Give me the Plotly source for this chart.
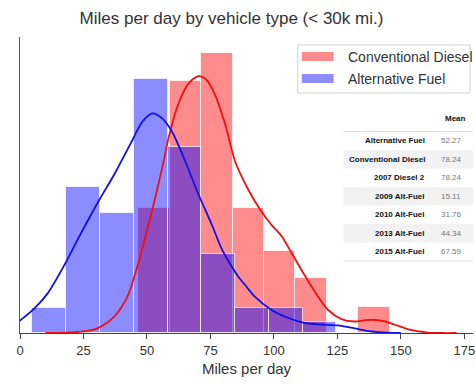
import plotly.graph_objects as go

# ---------------- data ----------------
diesel_label = "Conventional Diesel"
alt_label = "Alternative Fuel"

# histogram bin edges (miles per day) and normalised heights (density)
alt_edges = [4.9, 18.2, 31.5, 44.8, 58.1, 71.4, 84.7, 98.0, 111.3, 124.6]
alt_density = [0.00215, 0.01256, 0.01032, 0.02184, 0.01600, 0.00679, 0.00215, 0.00215, 0.00095]

diesel_edges = [46.6, 59.0, 71.4, 83.7, 96.1, 108.5, 120.9, 133.2, 145.6]
diesel_density = [0.01078, 0.02167, 0.02405, 0.01078, 0.00705, 0.00470, 0.0, 0.00226]

# KDE curves
alt_kde_x = [-3, -0.2, 5.7, 10.9, 17.5, 24, 31.2, 37, 43.6, 48.2, 52.1, 56, 59.9, 65.2, 70.4,
             75.6, 79.5, 83.5, 86.1, 89.3, 92.6, 99.1, 105.7, 112.2, 118.7, 125.3, 131.8,
             138.4, 145, 150]
alt_kde_y = [0.00052, 0.00103, 0.00212, 0.00341, 0.00585, 0.00857, 0.01144, 0.01359, 0.01631,
             0.01817, 0.01889, 0.01846, 0.01731, 0.01471, 0.01187, 0.00929, 0.00722, 0.00568,
             0.00482, 0.00396, 0.00310, 0.00198, 0.00129, 0.00086, 0.00073, 0.00065, 0.00039,
             0.00013, 0.00002, 0.0]

diesel_kde_x = [10, 18, 24, 30.5, 37.1, 42.3, 46.2, 50.1, 54, 56.7, 58.6, 62.5, 66.5, 70.4, 73.5,
                76.7, 80.9, 84.8, 90, 94.7, 99.1, 103, 107, 110.9, 116.2, 121.4, 126.6, 131.8,
                136, 140, 143.6, 147.5, 154, 160.6, 166, 172]
diesel_kde_y = [0.0, 0.00003, 0.00011, 0.00040, 0.00140, 0.00312, 0.00570, 0.00886, 0.01230,
                0.01488, 0.01686, 0.01978, 0.02150, 0.02210, 0.02176, 0.02055, 0.01789, 0.01471,
                0.01230, 0.01058, 0.00929, 0.00834, 0.00688, 0.00542, 0.00353, 0.00198, 0.00120,
                0.00099, 0.00110, 0.00112, 0.00099, 0.00073, 0.00026, 0.00004, 0.0, 0.0]

# inset table of means
table_header = "Mean"
table_labels = ["Alternative Fuel", "Conventional Diesel", "2007 Diesel 2", "2009 Alt-Fuel",
                "2010 Alt-Fuel", "2013 Alt-Fuel", "2015 Alt-Fuel"]
table_means = [52.27, 78.24, 78.24, 15.11, 31.76, 44.34, 67.59]

x_ticks = [0, 25, 50, 75, 100, 125, 150, 175]

# ---------------- layout geometry ----------------
W, H = 475, 384
ML, MR, MT, MB = 20, 0, 37, 51
PW, PH = W - ML - MR, H - MT - MB

def px(xp):
    return (xp - ML) / PW

def py(yp):
    return (H - MB - yp) / PH

RED_FILL = "rgba(255,0,0,0.45)"
BLUE_FILL = "rgba(0,0,255,0.45)"
FONT = "Liberation Sans, Arial, sans-serif"

def centers(edges):
    return [(a + b) / 2 for a, b in zip(edges[:-1], edges[1:])]

def widths(edges):
    return [b - a for a, b in zip(edges[:-1], edges[1:])]

fig = go.Figure()
fig.add_trace(go.Bar(x=centers(diesel_edges), y=diesel_density, width=widths(diesel_edges),
                     marker=dict(color=RED_FILL, line=dict(color="rgba(255,255,255,0.7)", width=1)),
                     name=diesel_label, showlegend=False))
fig.add_trace(go.Bar(x=centers(alt_edges), y=alt_density, width=widths(alt_edges),
                     marker=dict(color=BLUE_FILL, line=dict(color="rgba(255,255,255,0.7)", width=1)),
                     name=alt_label, showlegend=False))
fig.add_trace(go.Scatter(x=diesel_kde_x, y=diesel_kde_y, mode="lines",
                         line=dict(color="#f01010", width=1.8, shape="spline", smoothing=0.8),
                         showlegend=False, hoverinfo="skip"))
fig.add_trace(go.Scatter(x=alt_kde_x, y=alt_kde_y, mode="lines",
                         line=dict(color="#1010e6", width=1.8, shape="spline", smoothing=0.8),
                         showlegend=False, hoverinfo="skip"))

shapes = []
annotations = []

# legend (drawn by hand to match the wide matplotlib patches)
shapes.append(dict(type="rect", xref="paper", yref="paper", x0=px(299), x1=px(472), y0=py(93), y1=py(45),
                   line=dict(color="#d0d0d0", width=1), fillcolor="rgba(255,255,255,0.85)", layer="above"))
for (label, color, yc) in [(diesel_label, RED_FILL, 56.5), (alt_label, BLUE_FILL, 78.5)]:
    shapes.append(dict(type="rect", xref="paper", yref="paper", x0=px(303), x1=px(335),
                       y0=py(yc + 4.5), y1=py(yc - 4.5), line=dict(width=0), fillcolor=color, layer="above"))
    annotations.append(dict(text=label, xref="paper", yref="paper", x=px(347), y=py(yc),
                            xanchor="left", yanchor="middle", showarrow=False,
                            font=dict(family=FONT, size=14, color="#333333")))

# inset table
row_top = 131.5
row_h = 18.5
for i, (lab, val) in enumerate(zip(table_labels, table_means)):
    y0 = row_top + i * row_h
    yc = y0 + row_h / 2
    if i % 2 == 1:
        shapes.append(dict(type="rect", xref="paper", yref="paper", x0=px(345), x1=px(475),
                           y0=py(y0 + row_h), y1=py(y0), line=dict(width=0), fillcolor="#f2f2f2",
                           layer="above"))
    annotations.append(dict(text="<b>" + lab + "</b>", xref="paper", yref="paper", x=px(429), y=py(yc),
                            xanchor="right", yanchor="middle", showarrow=False,
                            font=dict(family=FONT, size=8, color="#111111")))
    annotations.append(dict(text=f"{val:.2f}", xref="paper", yref="paper", x=px(441), y=py(yc),
                            xanchor="left", yanchor="middle", showarrow=False,
                            font=dict(family=FONT, size=8, color="#777777")))
annotations.append(dict(text="<b>" + table_header + "</b>", xref="paper", yref="paper", x=px(445),
                        y=py(118), xanchor="left", yanchor="middle", showarrow=False,
                        font=dict(family=FONT, size=8, color="#111111")))
for yl in [row_top, row_top + row_h * len(table_labels)]:
    shapes.append(dict(type="line", xref="paper", yref="paper", x0=px(345), x1=px(475), y0=py(yl), y1=py(yl),
                       line=dict(color="#dddddd", width=1), layer="above"))

fig.update_layout(
    width=W, height=H, autosize=False,
    margin=dict(l=ML, r=MR, t=MT, b=MB, pad=0),
    paper_bgcolor="white", plot_bgcolor="white",
    barmode="overlay", bargap=0,
    title=dict(text="Miles per day by vehicle type (< 30k mi.)", x=231.5 / W, xref="container",
               xanchor="center", y=1 - 18 / H, yref="container", yanchor="middle",
               font=dict(family=FONT, size=17, color="#333333")),
    xaxis=dict(range=[0, PW / 2.55], tickvals=x_ticks, ticktext=[str(t) for t in x_ticks],
               ticks="outside", ticklen=5, tickwidth=1.3, tickcolor="#444444",
               showline=True, linecolor="#444444", linewidth=1.3, showgrid=False, zeroline=False,
               ticklabeloverflow="allow",
               tickfont=dict(family=FONT, size=13, color="#333333"),
               title=dict(text="Miles per day", font=dict(family=FONT, size=15, color="#333333"), standoff=6)),
    yaxis=dict(range=[0, 0.02546], showline=True, linecolor="#555555", linewidth=1.3,
               showticklabels=False, ticks="", showgrid=False, zeroline=False),
    shapes=shapes, annotations=annotations,
)

fig.write_html("out.html", config={"displayModeBar": False},
               post_script="document.body.style.margin='0';document.body.style.overflow='hidden';")
